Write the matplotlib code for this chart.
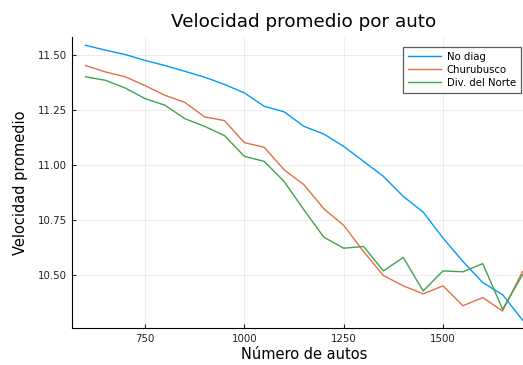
import numpy as np
import matplotlib.pyplot as plt

# Número de autos (600..1700, step 50)
autos = [600, 650, 700, 750, 800, 850, 900, 950, 1000, 1050, 1100, 1150,
         1200, 1250, 1300, 1350, 1400, 1450, 1500, 1550, 1600, 1650, 1700]

no_diag = [11.542, 11.52, 11.50, 11.473, 11.45, 11.424, 11.397, 11.364, 11.326,
           11.265, 11.24, 11.174, 11.139, 11.083, 11.015, 10.947, 10.856, 10.785,
           10.667, 10.561, 10.465, 10.41, 10.295]
churubusco = [11.45, 11.421, 11.399, 11.359, 11.315, 11.283, 11.217, 11.20, 11.10,
              11.079, 10.977, 10.909, 10.80, 10.725, 10.606, 10.497, 10.45, 10.414,
              10.45, 10.36, 10.397, 10.336, 10.515]
div_norte = [11.399, 11.383, 11.348, 11.30, 11.27, 11.209, 11.174, 11.132, 11.038,
             11.015, 10.924, 10.795, 10.671, 10.621, 10.629, 10.518, 10.579, 10.427,
             10.518, 10.514, 10.551, 10.344, 10.50]

series = [("No diag", no_diag, "#009AFA"),
          ("Churubusco", churubusco, "#E36F47"),
          ("Div. del Norte", div_norte, "#3EA44E")]

W, H = 523, 365
fig = plt.figure(figsize=(W / 100, H / 100), dpi=100)
# axes box in pixels (right side runs past the picture edge, as in the reference)
left, right, top, bottom = 72.3, 535.6, 37.0, 328.3
ax = fig.add_axes([left / W, 1 - bottom / H, (right - left) / W, (bottom - top) / H])

for name, vals, col in series:
    ax.plot(autos, vals, color=col, lw=1.0, label=name)

# widen limits by 3% like Plots.jl
xs = max(autos) - min(autos)
ax.set_xlim(min(autos) - 0.03 * xs, max(autos) + 0.03 * xs)
allv = no_diag + churubusco + div_norte
ys = max(allv) - min(allv)
ax.set_ylim(min(allv) - 0.03 * ys, max(allv) + 0.03 * ys)

ax.set_xticks([750, 1000, 1250, 1500])
ax.set_yticks([10.50, 10.75, 11.00, 11.25, 11.50])
ax.set_yticklabels(["10.50", "10.75", "11.00", "11.25", "11.50"])
ax.grid(True, color="black", alpha=0.1, lw=0.5)
for s in ["top", "right"]:
    ax.spines[s].set_visible(False)
ax.tick_params(direction="in", length=3, width=0.8, labelsize=7.4, colors="#222222",
               pad=4)

ax.set_title("Velocidad promedio por auto", fontsize=13.2, pad=7)
ax.set_xlabel("Número de autos", fontsize=10.5, labelpad=2)
ax.set_ylabel("Velocidad promedio", fontsize=10.5, labelpad=7)

leg = fig.legend(loc="upper right", bbox_to_anchor=(520.7 / W, 1 - 46.7 / H),
                 fontsize=7.3, frameon=True, fancybox=False, edgecolor="#333333",
                 handlelength=3.3, handletextpad=0.5, borderpad=0.5,
                 labelspacing=0.3, borderaxespad=0)
leg.get_frame().set_linewidth(0.9)

fig.savefig("out.png", dpi=100)
